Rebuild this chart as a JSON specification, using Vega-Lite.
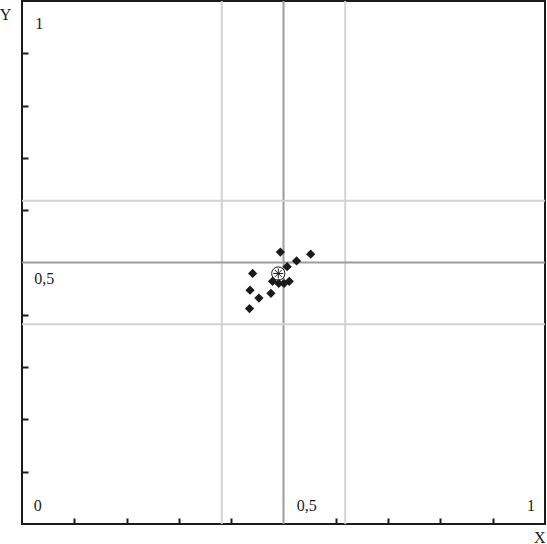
{
  "$schema": "https://vega.github.io/schema/vega-lite/v6.json",
  "width": 523,
  "height": 523,
  "autosize": "none",
  "padding": {"left": 22, "top": 1, "right": 2, "bottom": 20},
  "background": "white",
  "config": {"view": {"stroke": "#1a1a1a", "strokeWidth": 2}, "font": "Liberation Serif"},
  "datasets": {
    "grid": [
      {"v": 0.382, "kind": "minor"},
      {"v": 0.618, "kind": "minor"},
      {"v": 0.5, "kind": "major"}
    ],
    "points": [
      {"x": 0.494, "y": 0.520},
      {"x": 0.552, "y": 0.516},
      {"x": 0.525, "y": 0.503},
      {"x": 0.507, "y": 0.492},
      {"x": 0.441, "y": 0.479},
      {"x": 0.479, "y": 0.464},
      {"x": 0.491, "y": 0.460},
      {"x": 0.501, "y": 0.460},
      {"x": 0.511, "y": 0.464},
      {"x": 0.436, "y": 0.447},
      {"x": 0.453, "y": 0.432},
      {"x": 0.476, "y": 0.441},
      {"x": 0.435, "y": 0.412}
    ],
    "center": [{"x": 0.490, "y": 0.479}],
    "labels": [
      {"x": 0.033, "y": 0.946, "label": "1"},
      {"x": 0.0426, "y": 0.4595, "label": "0,5"},
      {"x": 0.030, "y": 0.0249, "label": "0"},
      {"x": 0.5444, "y": 0.0249, "label": "0,5"},
      {"x": 0.973, "y": 0.0249, "label": "1"}
    ]
  },
  "layer": [
    {
      "data": {"name": "grid"},
      "mark": {"type": "rule", "strokeWidth": 2},
      "encoding": {
        "x": {
          "field": "v", "type": "quantitative",
          "scale": {"domain": [0, 1], "nice": false, "zero": false},
          "axis": {
            "title": "X", "values": [0.1, 0.2, 0.3, 0.4, 0.6, 0.7, 0.8, 0.9],
            "labels": false, "domain": false, "grid": false,
            "tickSize": -6, "tickWidth": 2, "tickColor": "#1a1a1a",
            "titleFont": "Liberation Serif", "titleFontSize": 16, "titleFontWeight": "normal",
            "titleColor": "#1a1a1a", "titleAlign": "right", "titleBaseline": "alphabetic",
            "titleX": 523, "titleY": 18, "zindex": 1
          }
        },
        "color": {
          "field": "kind", "type": "nominal",
          "scale": {"domain": ["minor", "major"], "range": ["#d2d2d2", "#9c9c9c"]},
          "legend": null
        }
      }
    },
    {
      "data": {"name": "grid"},
      "mark": {"type": "rule", "strokeWidth": 2},
      "encoding": {
        "y": {
          "field": "v", "type": "quantitative",
          "scale": {"domain": [0, 1], "nice": false, "zero": false},
          "axis": {
            "title": "Y", "values": [0.1, 0.2, 0.3, 0.4, 0.6, 0.7, 0.8, 0.9],
            "labels": false, "domain": false, "grid": false,
            "tickSize": -6, "tickWidth": 2, "tickColor": "#1a1a1a",
            "titleFont": "Liberation Serif", "titleFontSize": 16, "titleFontWeight": "normal",
            "titleColor": "#1a1a1a", "titleAngle": 0, "titleAlign": "center", "titleBaseline": "alphabetic",
            "titleX": -17, "titleY": 18, "zindex": 1
          }
        },
        "color": {
          "field": "kind", "type": "nominal",
          "scale": {"domain": ["minor", "major"], "range": ["#d2d2d2", "#9c9c9c"]},
          "legend": null
        }
      }
    },
    {
      "data": {"name": "center"},
      "mark": {"type": "point", "shape": "circle", "filled": true, "fill": "white", "stroke": "#1a1a1a", "strokeWidth": 1, "size": 175, "opacity": 1},
      "encoding": {
        "x": {"field": "x", "type": "quantitative"},
        "y": {"field": "y", "type": "quantitative"}
      }
    },
    {
      "data": {"name": "center"},
      "mark": {"type": "point", "shape": "M0,-1L0,1M-1,0L1,0M-0.71,-0.71L0.71,0.71M-0.71,0.71L0.71,-0.71", "filled": false, "stroke": "#1a1a1a", "strokeWidth": 1, "size": 100, "opacity": 1},
      "encoding": {
        "x": {"field": "x", "type": "quantitative"},
        "y": {"field": "y", "type": "quantitative"}
      }
    },
    {
      "data": {"name": "points"},
      "mark": {"type": "point", "shape": "diamond", "filled": true, "color": "#1a1a1a", "size": 85, "opacity": 1},
      "encoding": {
        "x": {"field": "x", "type": "quantitative"},
        "y": {"field": "y", "type": "quantitative"}
      }
    },
    {
      "data": {"name": "labels"},
      "mark": {"type": "text", "font": "Liberation Serif", "fontSize": 16, "color": "#1a1a1a", "align": "center", "baseline": "alphabetic"},
      "encoding": {
        "x": {"field": "x", "type": "quantitative"},
        "y": {"field": "y", "type": "quantitative"},
        "text": {"field": "label"}
      }
    }
  ]
}
